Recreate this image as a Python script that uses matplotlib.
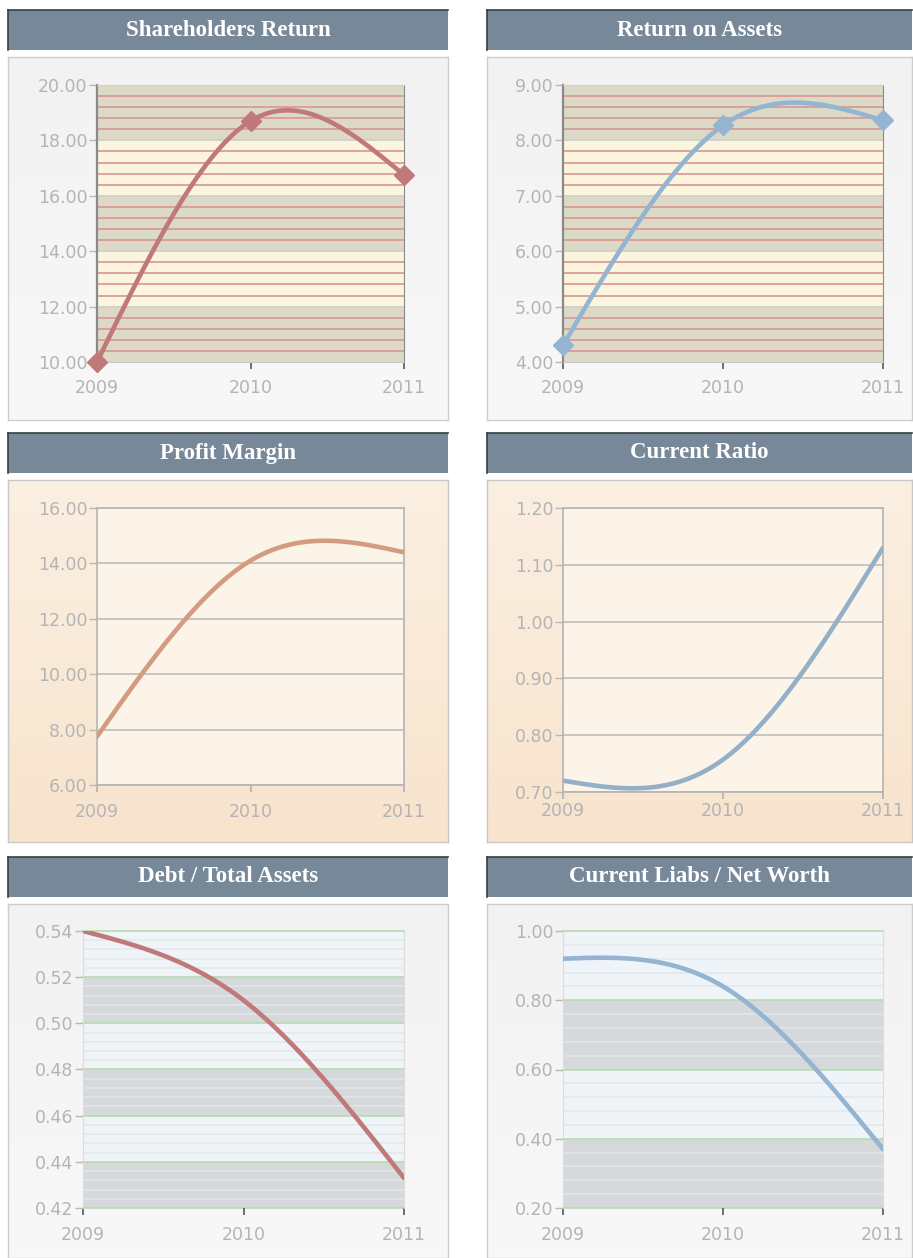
import numpy as np
import matplotlib
matplotlib.use("Agg")
import matplotlib.pyplot as plt
from matplotlib.colors import LinearSegmentedColormap

W, H = 913, 1258

years = [2009, 2010, 2011]
titles = ["Shareholders Return", "Return on Assets", "Profit Margin",
          "Current Ratio", "Debt / Total Assets", "Current Liabs / Net Worth"]
shareholders_return = [10.0, 18.7, 16.75]
return_on_assets = [4.3, 8.27, 8.36]
profit_margin = [7.75, 14.1, 14.4]
current_ratio = [0.72, 0.757, 1.13]
debt_total_assets = [0.54, 0.51, 0.433]
liabs_net_worth = [0.92, 0.84, 0.37]


def px_rect(x0, y0, x1, y1):
    return [x0 / W, 1 - y1 / H, (x1 - x0) / W, (y1 - y0) / H]


def smooth(xs, ys, n=200):
    # natural cubic spline through the points (rendering only)
    xs = np.asarray(xs, float)
    ys = np.asarray(ys, float)
    k = len(xs)
    h = np.diff(xs)
    A = np.zeros((k, k))
    b = np.zeros(k)
    A[0, 0] = A[-1, -1] = 1
    for i in range(1, k - 1):
        A[i, i - 1] = h[i - 1]
        A[i, i] = 2 * (h[i - 1] + h[i])
        A[i, i + 1] = h[i]
        b[i] = 6 * ((ys[i + 1] - ys[i]) / h[i] - (ys[i] - ys[i - 1]) / h[i - 1])
    M = np.linalg.solve(A, b)
    xx = np.linspace(xs[0], xs[-1], n)
    yy = np.empty_like(xx)
    for j, x in enumerate(xx):
        i = min(np.searchsorted(xs, x, side="right") - 1, k - 2)
        t0, t1 = x - xs[i], xs[i + 1] - x
        yy[j] = (M[i] * t1 ** 3 + M[i + 1] * t0 ** 3) / (6 * h[i]) \
            + (ys[i] / h[i] - M[i] * h[i] / 6) * t1 \
            + (ys[i + 1] / h[i] - M[i + 1] * h[i] / 6) * t0
    return xx, yy


def panel(rect, top, bottom, edge):
    ax = fig.add_axes(px_rect(*rect))
    cmap = LinearSegmentedColormap.from_list("g", [bottom, top])
    ax.imshow(np.linspace(0, 1, 100).reshape(-1, 1)[::-1], aspect="auto",
              cmap=cmap, extent=[0, 1, 0, 1])
    ax.set_xticks([])
    ax.set_yticks([])
    for s in ax.spines.values():
        s.set_color(edge)
        s.set_linewidth(1)
    return ax


def header(rect, text):
    ax = fig.add_axes(px_rect(*rect))
    ax.set_facecolor("#778899")
    ax.set_xticks([])
    ax.set_yticks([])
    for s in ["right", "bottom"]:
        ax.spines[s].set_visible(False)
    for s in ["top", "left"]:
        ax.spines[s].set_color("#34403f")
        ax.spines[s].set_linewidth(1.2)
    ax.text(0.5, 0.5, text, color="white", fontsize=16.5, fontweight="bold",
            family="Liberation Serif", ha="center", va="center",
            transform=ax.transAxes)


def base_axes(rect, ylim, step, fmt, pad):
    ax = fig.add_axes(px_rect(*rect))
    ax.set_xlim(2009, 2011)
    ax.set_ylim(*ylim)
    ax.set_xticks(years)
    ax.set_xticklabels([str(y) for y in years])
    ticks = np.arange(ylim[0], ylim[1] + step / 2, step)
    ax.set_yticks(ticks)
    ax.set_yticklabels([fmt % t for t in ticks])
    ax.tick_params(axis="both", labelsize=12.5, labelcolor="#b4b4b4")
    ax.tick_params(axis="y", length=6, width=1, color="#b8b8b8", pad=1)
    ax.tick_params(axis="x", length=5, width=1.2, color="#555555", pad=pad)
    for lab in ax.get_xticklabels() + ax.get_yticklabels():
        lab.set_family("DejaVu Sans")
    return ax


fig = plt.figure(figsize=(W / 100, H / 100), dpi=100)
fig.patch.set_facecolor("white")

cols = [(8, 448), (487, 912)]
rows = [(10, 50, 57, 420), (433, 473, 480, 842), (857, 897, 904, 1258)]

# panels and headers
for r, (hy0, hy1, py0, py1) in enumerate(rows):
    for c, (x0, x1) in enumerate(cols):
        if r == 1:
            panel((x0, py0, x1, py1), "#fbefe2", "#f8e4cd", "#c8c8c8")
        else:
            panel((x0, py0, x1, py1), "#f2f2f2", "#f8f8f8", "#cdcdcd")
        header((x0, hy0, x1, hy1), titles[r * 2 + c])

# ---- row 1: banded charts with markers
top_specs = [
    ((97, 85, 404, 362), (10, 20), 2, shareholders_return, "#c0787a"),
    ((563, 85, 883, 362), (4, 9), 1, return_on_assets, "#93b5d2"),
]
for rect, ylim, step, vals, color in top_specs:
    ax = base_axes(rect, ylim, step, "%.2f", 7)
    edges = np.arange(ylim[0], ylim[1] + step / 2, step)
    for i in range(len(edges) - 1):
        band = "#dcdac6" if (len(edges) - 2 - i) % 2 == 0 else "#fbf5de"
        ax.axhspan(edges[i], edges[i + 1], color=band, lw=0, zorder=0)
        for m in np.linspace(edges[i], edges[i + 1], 6)[1:-1]:
            ax.axhline(m, color="#d69696", lw=1.2, zorder=1)
    for e in edges[1:-1]:
        ax.axhline(e, color="#cfcfcf", lw=1.3, zorder=1)
    ax.spines["left"].set_color("#8a8a8a")
    ax.spines["left"].set_linewidth(1.6)
    ax.spines["right"].set_color("#8a8a8a")
    ax.spines["top"].set_color("#d0d0d0")
    ax.spines["bottom"].set_color("#c8c8c8")
    xx, yy = smooth(years, vals)
    ax.plot(xx, yy, color=color, lw=3.3, zorder=3, solid_capstyle="round")
    ax.plot(years, vals, ls="none", marker="D", ms=10.5, color=color,
            zorder=4, clip_on=False)

# ---- row 2: plain grid charts
mid_specs = [
    ((97, 508, 404, 785), (6, 16), 2, profit_margin, "#d39c80", "%.2f", 8),
    ((563, 508, 883, 792), (0.7, 1.2), 0.1, current_ratio, "#93b0c6", "%.2f", 2),
]
for rect, ylim, step, vals, color, fmt, pad in mid_specs:
    ax = base_axes(rect, ylim, step, fmt, pad)
    ax.set_facecolor("#fcf4e9")
    ax.grid(axis="y", color="#b8b8b8", lw=1.1)
    ax.set_axisbelow(True)
    ax.tick_params(axis="x", color="#b0b0b0")
    for s in ax.spines.values():
        s.set_color("#b4b4b4")
        s.set_linewidth(1.2)
    xx, yy = smooth(years, vals)
    ax.plot(xx, yy, color=color, lw=3.3, zorder=3, solid_capstyle="round")

# ---- row 3: blue/grey banded charts
bot_specs = [
    ((83, 931, 404, 1208), (0.42, 0.54), 0.02, debt_total_assets, "#c0787a"),
    ((563, 931, 883, 1208), (0.2, 1.0), 0.2, liabs_net_worth, "#93b5d2"),
]
for rect, ylim, step, vals, color in bot_specs:
    ax = base_axes(rect, ylim, step, "%.2f", 8)
    edges = np.arange(ylim[0], ylim[1] + step / 2, step)
    for i in range(len(edges) - 1):
        band = "#eff4f9" if (len(edges) - 2 - i) % 2 == 0 else "#d6d9db"
        ax.axhspan(edges[i], edges[i + 1], color=band, lw=0, zorder=0)
        for m in np.linspace(edges[i], edges[i + 1], 6)[1:-1]:
            ax.axhline(m, color="#e4e7ea", lw=1.1, zorder=1)
    for e in edges:
        ax.axhline(e, color="#b9d9b0", lw=1.2, zorder=1, clip_on=False)
    for s in ax.spines.values():
        s.set_color("#dcdcdc")
    ax.spines["bottom"].set_visible(False)
    ax.spines["top"].set_visible(False)
    xx, yy = smooth(years, vals)
    ax.plot(xx, yy, color=color, lw=3.3, zorder=3, solid_capstyle="round")

fig.savefig("out.png", dpi=100)
